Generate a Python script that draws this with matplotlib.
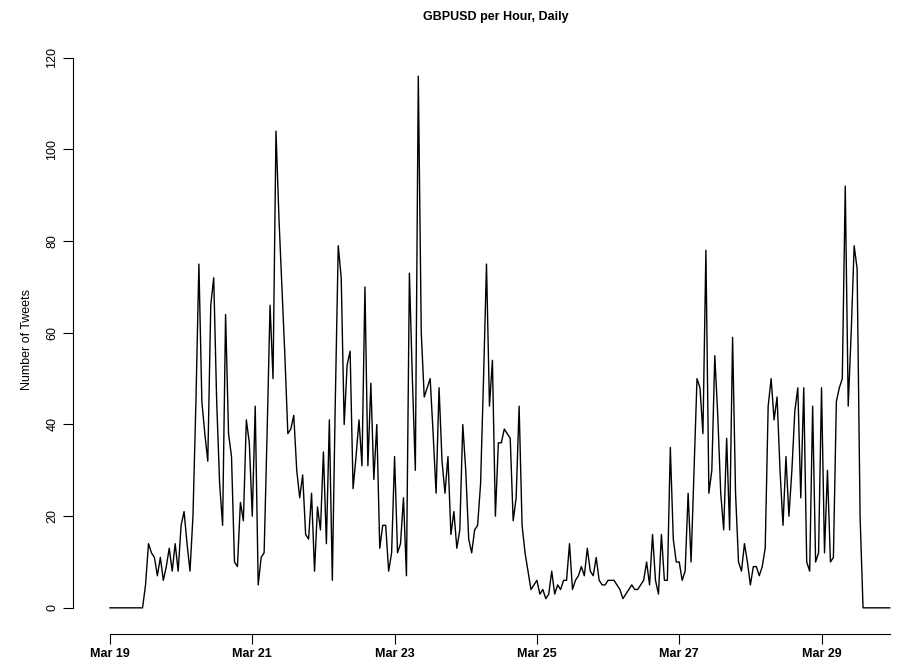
import matplotlib.pyplot as plt
import numpy as np

# hourly tweet counts, Mar 19 00:00 onward
counts = [0]*12 + [5, 14, 12, 11, 7, 11, 6, 9, 13, 8, 14, 8, 18, 21, 14, 8, 20, 45, 75,
    45, 38, 32, 66, 72, 45, 27, 18, 64, 38, 33, 10, 9, 23, 19, 41, 36, 20, 44, 5, 11, 12,
    38, 66, 50, 104, 85, 70, 55, 38, 39, 42, 30, 24, 29, 16, 15, 25, 8, 22, 17, 34, 14, 41, 6,
    45, 79, 72, 40, 53, 56, 26, 33, 41, 31, 70, 31, 49, 28, 40, 13, 18, 18, 8, 12, 33, 12,
    14, 24, 7, 73, 50, 30, 116, 60, 46, 48, 50, 38, 25, 48, 32, 25, 33, 16, 21, 13, 17, 40,
    30, 15, 12, 17, 18, 27, 50, 75, 44, 54, 20, 36, 36, 39, 38, 37, 19, 24, 44, 18, 12, 8,
    4, 5, 6, 3, 4, 2, 3, 8, 6, 14, 4, 6, 7, 9, 7, 13, 8, 7, 11, 6, 5, 5, 6, 6, 6, 5, 4, 2,
    3, 4, 5, 4, 4, 5, 6, 10, 5, 16, 6, 3, 16, 6, 6, 35, 15, 10, 10, 6, 8, 25, 10, 30, 50,
    48, 38, 78, 25, 30, 55, 42, 25, 17, 37, 17, 59, 25, 10, 8, 14, 10, 5, 9, 9, 7, 9, 13,
    44, 50, 41, 46, 30, 18, 33, 20, 30, 43, 48, 24, 48, 10, 8, 44, 10, 12, 48, 12, 30, 10,
    11, 45, 48, 50, 92, 44, 60, 79, 74, 20, 0]
# a few extra low hours that were missed around Mar 25-26
counts = counts[:150] + [3, 5, 4, 6] + counts[150:]
counts = counts + [0]*(264 - len(counts))
hours = np.arange(len(counts))
tick_labels = ['Mar 19', 'Mar 21', 'Mar 23', 'Mar 25', 'Mar 27', 'Mar 29']
tick_hours = [0, 48, 96, 144, 192, 240]

fig = plt.figure(figsize=(9.09, 6.65), dpi=100)
ax = fig.add_axes([80/909, 37/665, 829/909, 578/665])
ax.plot(hours, counts, color='black', lw=1)
ax.set_xlim(-10.1, 269.5)
ax.set_ylim(-4.4, 121.7)
for s in ['top', 'right']:
    ax.spines[s].set_visible(False)
ax.spines['left'].set_position(('outward', 5))
ax.spines['bottom'].set_position(('outward', 4))
ax.spines['left'].set_bounds(0, 120)
ax.spines['bottom'].set_bounds(0, 263)
ax.set_yticks([0, 20, 40, 60, 80, 100, 120])
ax.set_xticks(tick_hours)
ax.set_xticklabels(tick_labels, fontweight='bold', fontsize=9, family='Liberation Sans')
for t in ax.get_yticklabels():
    t.set_rotation(90)
    t.set_va('center')
    t.set_fontsize(9)
    t.set_family('Liberation Sans')
ax.tick_params(length=7)
ax.set_ylabel('Number of Tweets', fontsize=9, family='Liberation Sans', labelpad=10)
fig.text(0.545, 0.975, 'GBPUSD per Hour, Daily', ha='center', va='center',
         fontweight='bold', fontsize=9, family='Liberation Sans')
fig.savefig('out.png')
